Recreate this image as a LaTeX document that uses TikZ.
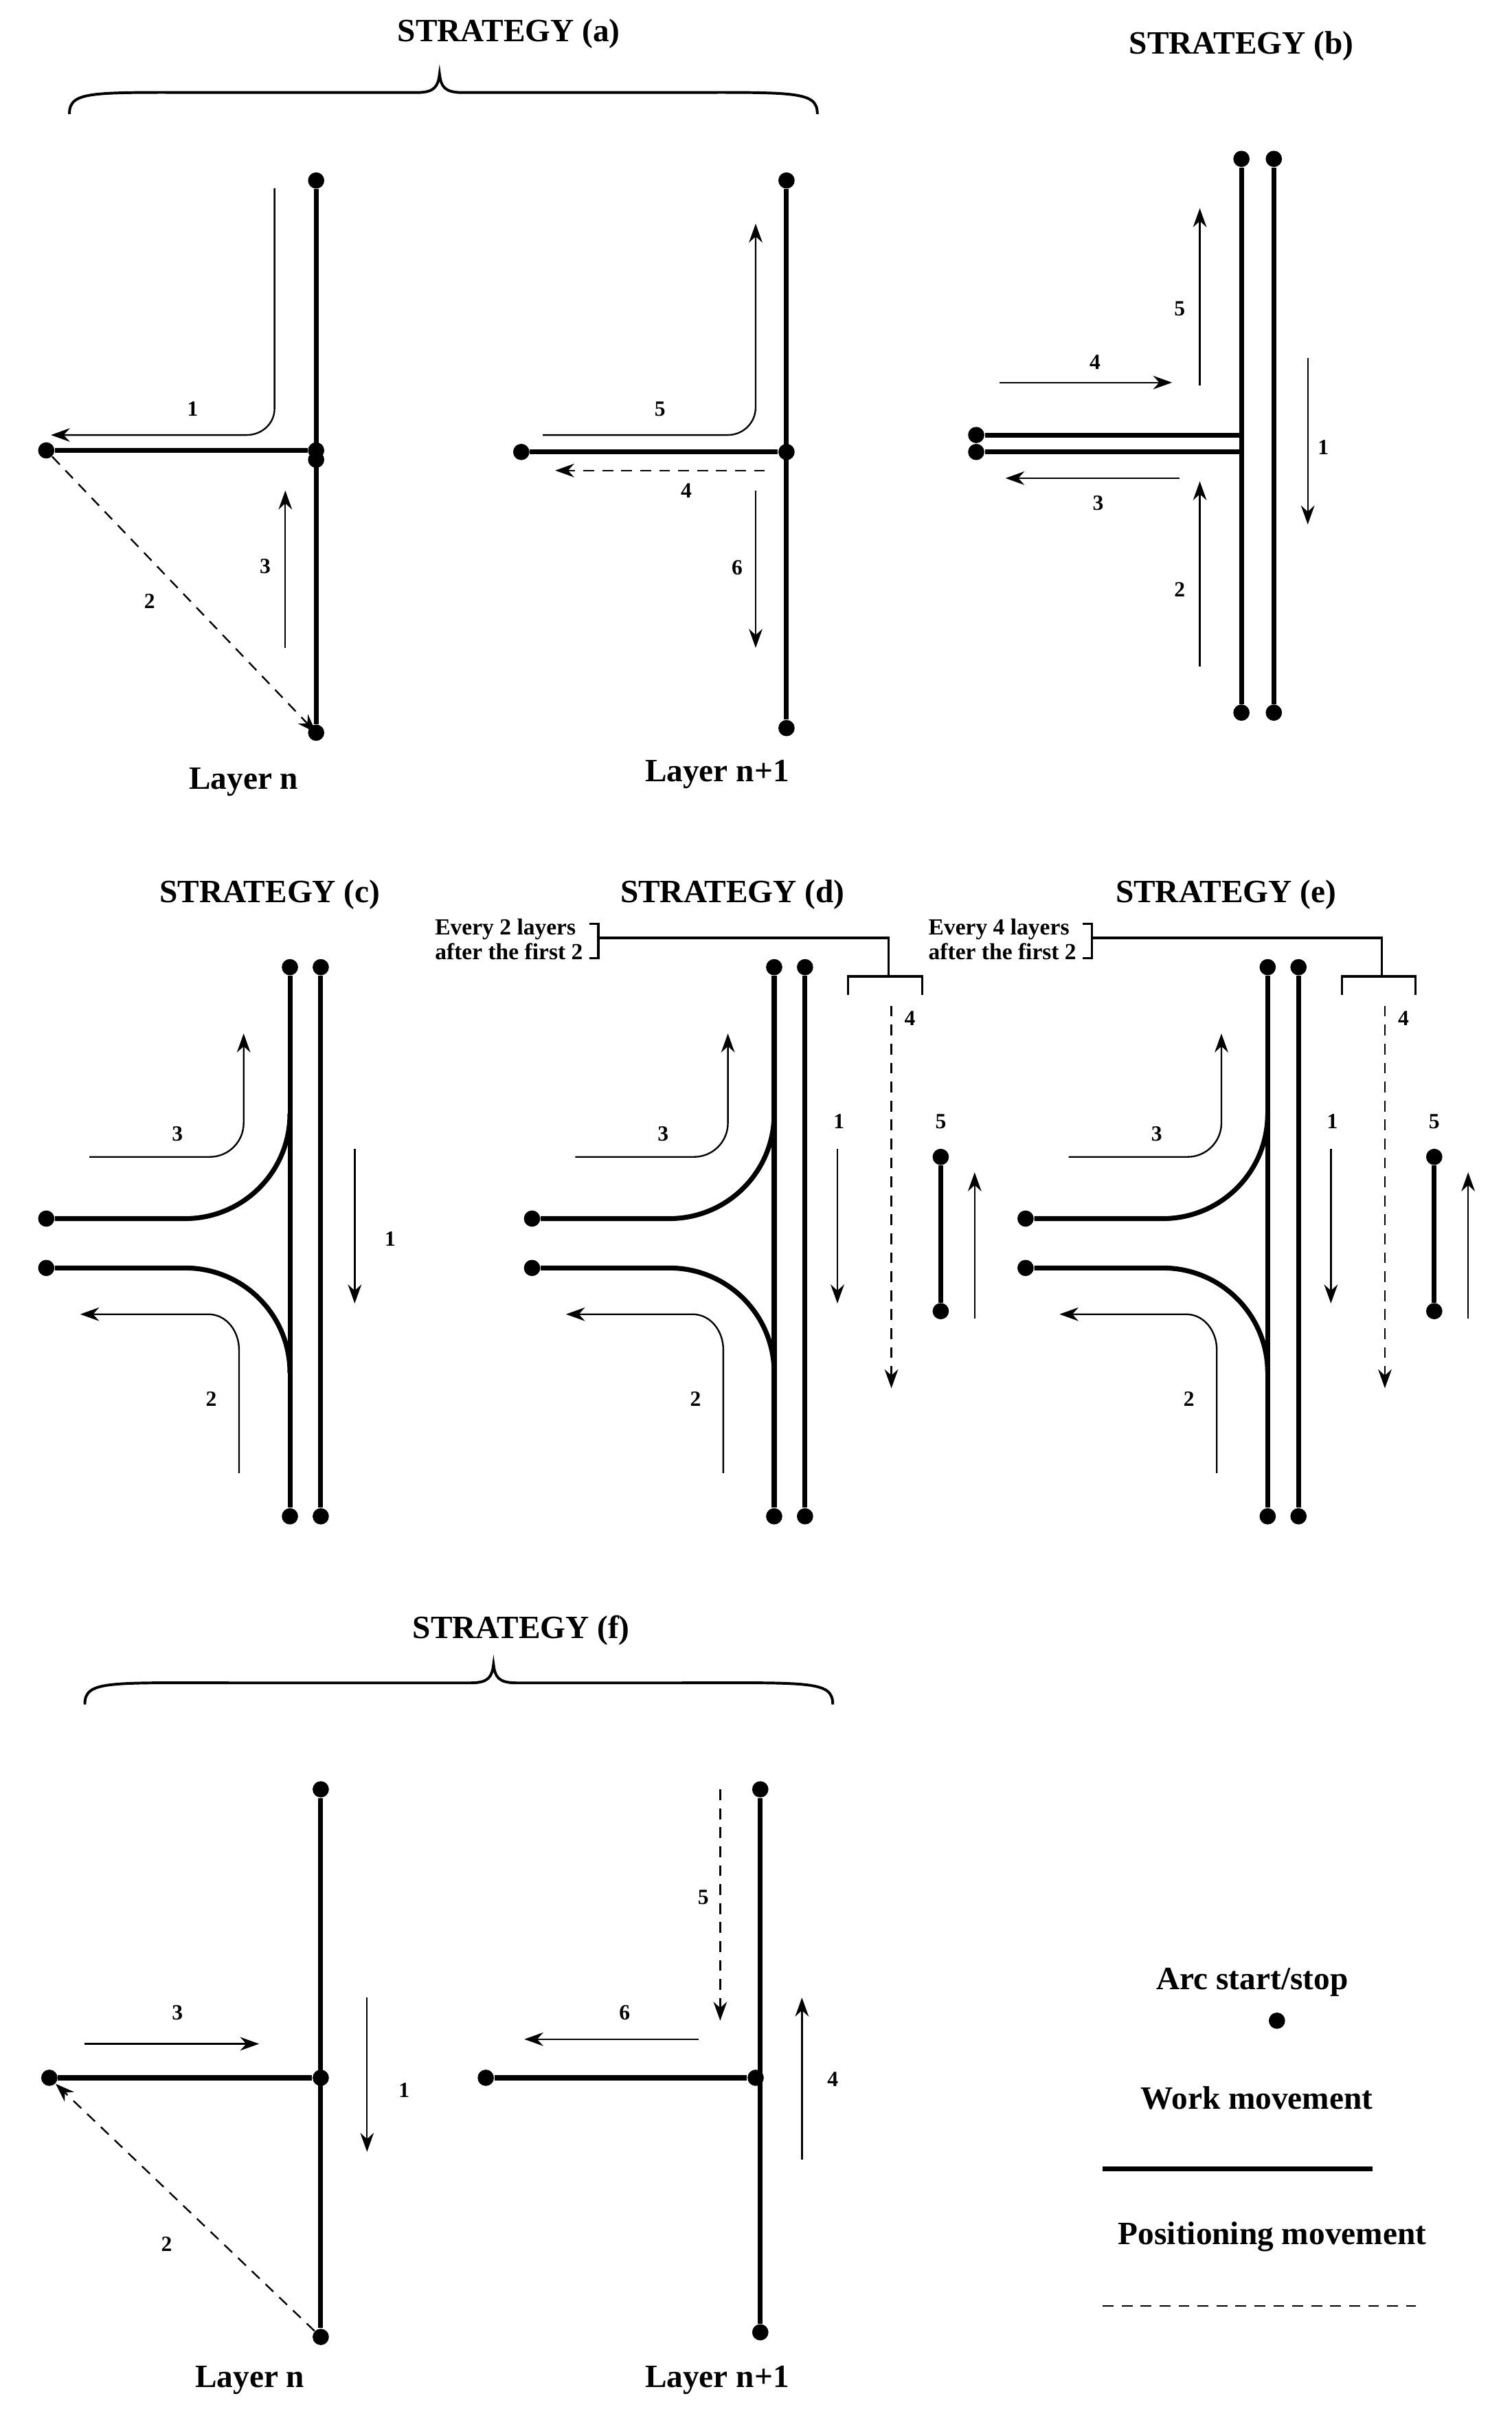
\documentclass[tikz,border=0pt]{standalone}
\usepackage{fontspec}
\setmainfont{Liberation Serif}
\usetikzlibrary{arrows.meta}
\begin{document}
\begin{tikzpicture}[x=0.02cm,y=-0.02cm,
 work/.style={line width=1.8pt},
 mv/.style={line width=0.6pt,-{Stealth[length=7pt,width=5pt]}},
 posmv/.style={line width=0.6pt,dash pattern=on 4pt off 3pt,-{Stealth[length=7pt,width=5pt]}},
 dot/.style={circle,fill,inner sep=0pt,minimum size=6pt},
 ttl/.style={font=\fontsize{12}{14}\selectfont\bfseries},
 lbl/.style={font=\fontsize{8}{10}\selectfont\bfseries},
 sm/.style={font=\fontsize{8.5}{9}\selectfont\bfseries,align=left,inner sep=1pt}]
\useasboundingbox (0,0) rectangle (980,1576);
% ---------- Strategy (a)
\node[ttl] (ta) at (330,22) {STRATEGY (a)};
\draw[line width=1pt] (45,74) .. controls (45,58) and (60,60) .. (150,60) -- (270,60) .. controls (282,60) and (284,56) .. (285,48) .. controls (286,56) and (288,60) .. (300,60) -- (420,60) .. controls (515,60) and (530,58) .. (530,74);
\node[dot] (a1t) at (205,117) {}; \node[dot] (a1b) at (205,475) {};
\node[dot] (a1m) at (205,292) {}; \node[dot] (a1m2) at (205,298) {}; \node[dot] (a1l) at (30,292) {};
\draw[work] (a1t) -- (a1b); \draw[work] (a1l) -- (a1m);
\draw[mv] (178,122) -- (178,265) to[out=-90,in=0] (160,282) -- (33,282);
\node[lbl] at (125,265) {1};
\draw[posmv] (a1l) -- (205,475);
\node[lbl] at (97,390) {2};
\draw[mv] (185,420) -- (185,318); \node[lbl] at (172,367) {3};
\node[ttl] at (158,507) {Layer n};
\node[dot] (a2t) at (510,117) {}; \node[dot] (a2b) at (510,472) {};
\node[dot] (a2m) at (510,293) {}; \node[dot] (a2l) at (338,293) {};
\draw[work] (a2t) -- (a2b); \draw[work] (a2l) -- (a2m);
\draw[mv] (352,282) -- (472,282) to[out=0,in=-90] (490,264) -- (490,145);
\node[lbl] at (428,265) {5};
\draw[posmv] (496,305) -- (360,305); \node[lbl] at (445,318) {4};
\draw[mv] (490,318) -- (490,420); \node[lbl] at (478,368) {6};
\node[ttl] at (465,502) {Layer n+1};
% ---------- Strategy (b)
\node[ttl] at (805,30) {STRATEGY (b)};
\node[dot] (b1t) at (805,103) {}; \node[dot] (b1b) at (805,462) {};
\node[dot] (b2t) at (826,103) {}; \node[dot] (b2b) at (826,462) {};
\node[dot] (bl1) at (633,282) {}; \node[dot] (bl2) at (633,293) {};
\draw[work] (b1t) -- (b1b); \draw[work] (b2t) -- (b2b);
\draw[work] (bl1) -- (805,282); \draw[work] (bl2) -- (805,293);
\draw[mv] (778,250) -- (778,135); \node[lbl] at (765,200) {5};
\draw[mv] (648,248) -- (760,248); \node[lbl] at (710,235) {4};
\draw[mv] (765,310) -- (652,310); \node[lbl] at (712,326) {3};
\draw[mv] (778,432) -- (778,312); \node[lbl] at (765,382) {2};
\draw[mv] (848,232) -- (848,340); \node[lbl] at (858,290) {1};
% ---------- Strategies (c),(d),(e)
\foreach \o/\vx/\lx/\nm in {0/188/30/c, 314/502/345/d, 634/822/665/e}{
 \node[dot] (t1\nm) at (\vx,627) {}; \node[dot] (b1\nm) at (\vx,983) {};
 \node[dot] (t2\nm) at (\vx+20,627) {}; \node[dot] (b2\nm) at (\vx+20,983) {};
 \node[dot] (l1\nm) at (\lx,790) {}; \node[dot] (l2\nm) at (\lx,822) {};
 \draw[work] (t1\nm) -- (b1\nm); \draw[work] (t2\nm) -- (b2\nm);
 \draw[work] (l1\nm) -- (\vx-68,790) to[out=0,in=-90] (\vx,722);
 \draw[work] (l2\nm) -- (\vx-68,822) to[out=0,in=90] (\vx,890);
 \draw[mv] (\lx+28,750) -- (\vx-52,750) to[out=0,in=-90] (\vx-30,728) -- (\vx-30,670);
 \node[lbl] at (\lx+85,735) {3};
 \draw[mv] (\vx-33,955) -- (\vx-33,875) to[out=90,in=0] (\vx-53,852) -- (\lx+22,852);
 \node[lbl] at (\vx-51,907) {2};
}
\node[ttl] at (175,580) {STRATEGY (c)};
\draw[mv] (230,745) -- (230,845); \node[lbl] at (253,803) {1};
\node[ttl] at (475,580) {STRATEGY (d)};
\node[ttl] at (795,580) {STRATEGY (e)};
\foreach \vx/\txt/\nm in {502/Every 2 layers/d, 822/Every 4 layers/e}{
 \node[sm,anchor=east] (tx\nm) at (\vx-122,609) {\txt\\after the first 2};
 \draw[line width=0.8pt] (\vx-120,599) -- (\vx-114,599) -- (\vx-114,621) -- (\vx-120,621);
 \draw[line width=0.8pt] (\vx-114,608) -- (\vx+74,608) -- (\vx+74,633);
 \draw[line width=0.8pt] (\vx+48,645) -- (\vx+48,633) -- (\vx+96,633) -- (\vx+96,645);
 \draw[posmv] (\vx+76,652) -- (\vx+76,900); \node[lbl] at (\vx+88,660) {4};
 \draw[mv] (\vx+41,745) -- (\vx+41,845); \node[lbl] at (\vx+42,727) {1};
 \node[dot] (s5t\nm) at (\vx+108,750) {}; \node[dot] (s5b\nm) at (\vx+108,850) {};
 \draw[work] (s5t\nm) -- (s5b\nm); \node[lbl] at (\vx+108,727) {5};
 \draw[mv] (\vx+130,855) -- (\vx+130,760);
}
% ---------- Strategy (f)
\node[ttl] at (338,1057) {STRATEGY (f)};
\draw[line width=1pt] (55,1105) .. controls (55,1089) and (70,1091) .. (160,1091) -- (305,1091) .. controls (317,1091) and (319,1087) .. (320,1079) .. controls (321,1087) and (323,1091) .. (335,1091) -- (430,1091) .. controls (525,1091) and (540,1089) .. (540,1105);
\node[dot] (f1t) at (208,1160) {}; \node[dot] (f1b) at (208,1515) {};
\node[dot] (f1m) at (208,1347) {}; \node[dot] (f1l) at (32,1347) {};
\draw[work] (f1t) -- (f1b); \draw[work] (f1l) -- (f1m);
\draw[mv] (55,1325) -- (168,1325); \node[lbl] at (115,1305) {3};
\draw[mv] (238,1295) -- (238,1395); \node[lbl] at (262,1355) {1};
\draw[posmv] (f1b) -- (f1l); \node[lbl] at (108,1455) {2};
\node[ttl] at (162,1543) {Layer n};
\node[dot] (f2t) at (493,1160) {}; \node[dot] (f2b) at (493,1512) {};
\node[dot] (f2m) at (490,1347) {}; \node[dot] (f2l) at (315,1347) {};
\draw[work] (f2t) -- (f2b); \draw[work] (f2l) -- (f2m);
\draw[posmv] (467,1160) -- (467,1310); \node[lbl] at (456,1230) {5};
\draw[mv] (453,1322) -- (340,1322); \node[lbl] at (405,1305) {6};
\draw[mv] (520,1400) -- (520,1295); \node[lbl] at (540,1348) {4};
\node[ttl] at (465,1543) {Layer n+1};
% ---------- Legend
\node[ttl] at (812,1285) {Arc start/stop};
\node[dot] (ld) at (828,1310) {};
\node[ttl] at (815,1360) {Work movement};
\coordinate (w1) at (715,1406); \coordinate (w2) at (890,1406);
\draw[work] (w1) -- (w2);
\node[ttl] at (825,1450) {Positioning movement};
\coordinate (p1) at (715,1495); \coordinate (p2) at (918,1495);
\draw[line width=0.6pt,dash pattern=on 4pt off 3pt] (p1) -- (p2);
\end{tikzpicture}
\end{document}
